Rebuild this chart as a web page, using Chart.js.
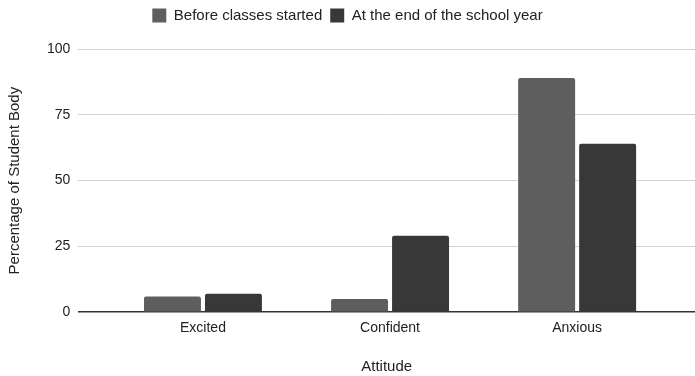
<!DOCTYPE html>
<html>
<head>
<meta charset="utf-8">
<title>Student attitude survey</title>
<script src="https://cdn.jsdelivr.net/npm/chart.js@4/dist/chart.umd.min.js"></script>
<style>
  html, body { margin: 0; padding: 0; background: #fff; }
  #wrap { width: 695px; height: 376px; }
</style>
</head>
<body>
<div id="wrap"><canvas id="attitudeChart" width="695" height="376"></canvas></div>
<script>
// Survey results, percent of students per attitude
const categories = ['Excited', 'Confident', 'Anxious'];
const beforeClasses = [6, 5, 89];
const endOfYear = [7, 29, 64];
const yTicks = [0, 25, 50, 75, 100];

const FONT = 'Liberation Sans, Arial, Helvetica, sans-serif';
const TEXT = '#222222';

// Push the plot down a bit below the legend
const legendMargin = {
    id: 'legendMargin',
    beforeInit(chart) {
        const fit = chart.legend.fit;
        chart.legend.fit = function() {
            fit.bind(chart.legend)();
            this.height += 16;
        };
    }
};

function toPoints(values) {
    return values.map((v, i) => ({ x: i, y: v }));
}

document.addEventListener('DOMContentLoaded', function() {
    const ctx = document.getElementById('attitudeChart').getContext('2d');

    new Chart(ctx, {
        type: 'bar',
        data: {
            datasets: [{
                label: 'Before classes started',
                data: toPoints(beforeClasses),
                backgroundColor: '#5e5e5e',
                borderRadius: 2,
                borderSkipped: 'bottom'
            }, {
                label: 'At the end of the school year',
                data: toPoints(endOfYear),
                backgroundColor: '#383838',
                borderRadius: 2,
                borderSkipped: 'bottom'
            }]
        },
        options: {
            responsive: false,
            animation: false,
            categoryPercentage: 0.652,
            barPercentage: 0.934,
            layout: { padding: 0 },
            plugins: {
                legend: {
                    position: 'top',
                    labels: {
                        boxWidth: 14,
                        boxHeight: 14,
                        padding: 8,
                        color: TEXT,
                        font: { family: FONT, size: 15 }
                    }
                },
                tooltip: { enabled: false }
            },
            scales: {
                x: {
                    type: 'linear',
                    offset: false,
                    min: -0.666,
                    max: 2.63,
                    afterBuildTicks(scale) {
                        scale.ticks = categories.map((c, i) => ({ value: i }));
                    },
                    ticks: {
                        autoSkip: false,
                        maxRotation: 0,
                        padding: 8,
                        color: TEXT,
                        font: { family: FONT, size: 14 },
                        callback: (value) => categories[value]
                    },
                    grid: { display: false, drawTicks: false, offset: false },
                    border: { display: false },
                    title: {
                        display: true,
                        text: 'Attitude',
                        color: TEXT,
                        font: { family: FONT, size: 15 },
                        padding: { top: 13, bottom: 0 }
                    }
                },
                y: {
                    min: 0,
                    max: 100,
                    afterBuildTicks(scale) {
                        scale.ticks = yTicks.map(v => ({ value: v }));
                    },
                    ticks: {
                        padding: 8,
                        color: TEXT,
                        font: { family: FONT, size: 14 }
                    },
                    grid: {
                        drawTicks: false,
                        color: (c) => c.tick && c.tick.value === 0 ? '#333333' : '#d2d2d2',
                        lineWidth: (c) => c.tick && c.tick.value === 0 ? 1.5 : 1
                    },
                    border: { display: false },
                    title: {
                        display: true,
                        text: 'Percentage of Student Body',
                        color: TEXT,
                        font: { family: FONT, size: 15 },
                        padding: { top: 6, bottom: 15 }
                    }
                }
            }
        },
        plugins: [legendMargin]
    });
});
</script>
</body>
</html>
